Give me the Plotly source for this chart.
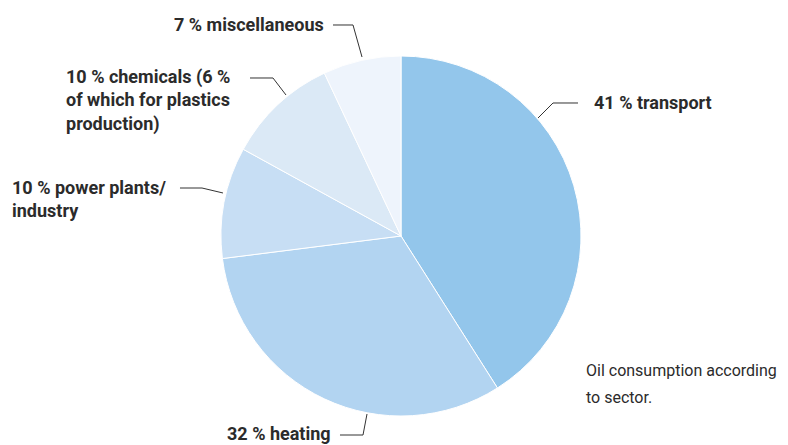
import plotly.graph_objects as go

sectors = ["transport", "heating", "power plants/industry", "chemicals", "miscellaneous"]
shares = [41, 32, 10, 10, 7]
colors = ["#93C6EB", "#B2D4F1", "#C7DEF4", "#DBE9F6", "#EEF4FC"]

label_texts = [
    "41 % transport",
    "32 % heating",
    "10 % power plants/<br>industry",
    "10 % chemicals (6 %<br>of which for plastics<br>production)",
    "7 % miscellaneous",
]
caption_lines = ["Oil consumption according", "to sector."]

# page offset (browser body margin)
OFF = 8
W, H = 788 - OFF, 445 - OFF
cx, cy, r = 401, 236, 180

def px(x, y):
    return (x - OFF) / W, 1 - (y - OFF) / H

x0, _ = px(cx - r, 0)
x1, _ = px(cx + r, 0)
_, y1 = px(0, cy - r)
_, y0 = px(0, cy + r)

fig = go.Figure(go.Pie(
    labels=sectors, values=shares, sort=False, direction="clockwise", rotation=0,
    marker=dict(colors=colors, line=dict(color="white", width=1)),
    textinfo="none", hoverinfo="none", showlegend=False,
    domain=dict(x=[x0, x1], y=[y0, y1]),
))

leaders = [
    [(538, 118), (553, 103), (578, 103)],
    [(340, 435), (363, 435), (367, 414)],
    [(180, 188), (202, 188), (223, 193)],
    [(250, 78), (273, 78), (286, 95)],
    [(333, 25), (353, 25), (362, 57)],
]
shapes = []
for pts in leaders:
    p = [px(*q) for q in pts]
    path = "M " + " L ".join(f"{a:.5f},{b:.5f}" for a, b in p)
    shapes.append(dict(type="path", path=path, xref="paper", yref="paper",
                       line=dict(color="#333333", width=1)))

anchors = [
    (592, 103, "left"),
    (333, 433, "right"),
    (10, 199, "left"),
    (64, 101, "left"),
    (326, 25, "right"),
]
FONT = "Roboto, sans-serif"
annotations = []
for txt, (x, y, xa) in zip(label_texts, anchors):
    ax, ay = px(x, y)
    annotations.append(dict(text=f"<b>{txt}</b>", x=ax, y=ay, xref="paper", yref="paper",
                            xanchor=xa, yanchor="middle", showarrow=False, align="left",
                            font=dict(family=FONT, size=18, color="#2b2b2b")))
for line, yy in zip(caption_lines, [370, 397]):
    ax, ay = px(584, yy)
    annotations.append(dict(text=line, x=ax, y=ay, xref="paper", yref="paper",
                            xanchor="left", yanchor="middle", showarrow=False, align="left",
                            font=dict(family=FONT, size=16, color="#2b2b2b")))

fig.update_layout(width=W, height=H, margin=dict(l=0, r=0, t=0, b=0),
                  paper_bgcolor="white", plot_bgcolor="white",
                  shapes=shapes, annotations=annotations)
fig.write_html("out.html")
